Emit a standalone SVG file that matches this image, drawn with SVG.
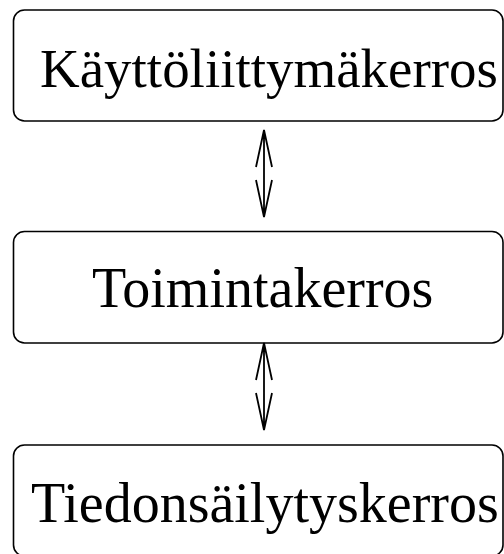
<svg xmlns="http://www.w3.org/2000/svg" width="504" height="554" viewBox="0 0 504 554">
<style>
.box{fill:#fff;stroke:#000;stroke-width:1.6}
.lbl{font-family:"Liberation Serif","Times New Roman",serif;font-size:56px;fill:#000}
.con{fill:none;stroke:#000;stroke-width:1.8}
</style>
<rect width="504" height="554" fill="#fff"/>
<g id="ui">
<rect class="box" x="13.5" y="10" width="489.5" height="111" rx="11"/>
<text class="lbl" x="40" y="87" style="font-size:55px" textLength="458" lengthAdjust="spacingAndGlyphs">Käyttöliittymäkerros</text>
</g>
<g id="logic">
<rect class="box" x="13.5" y="231.5" width="489.5" height="111.5" rx="11"/>
<text class="lbl" x="92" y="307">Toimintakerros</text>
</g>
<g id="data">
<rect class="box" x="13.5" y="445" width="489.5" height="111" rx="11"/>
<text class="lbl" x="31" y="522">Tiedonsäilytyskerros</text>
</g>
<g id="connectors">
<path class="con" d="M264 130V217M256 167L264 130L272 167M256 180L264 217L272 180"/>
<path class="con" d="M264 343V430M256 380L264 343L272 380M256 393L264 430L272 393"/>
</g>
</svg>
